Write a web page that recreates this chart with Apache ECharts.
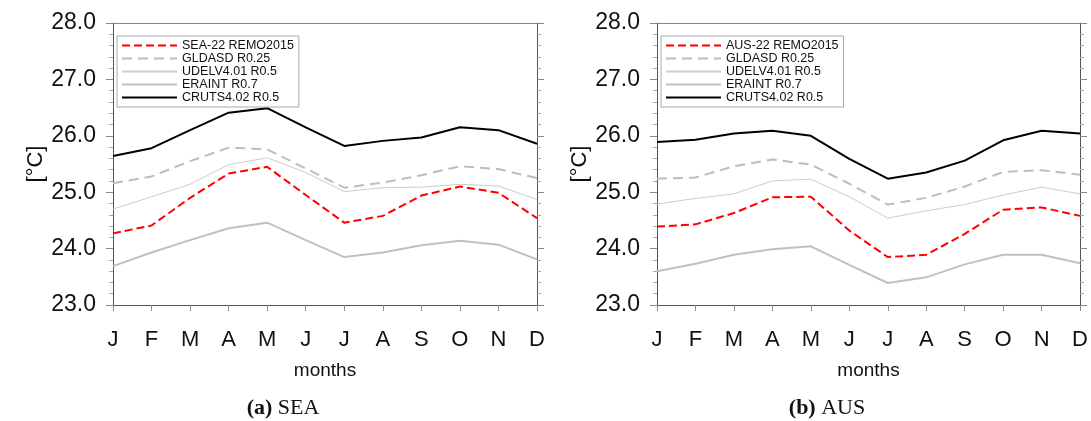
<!DOCTYPE html>
<html>
<head>
<meta charset="utf-8">
<script src="https://cdn.jsdelivr.net/npm/echarts@6/dist/echarts.min.js"></script>
<style>
html,body{margin:0;padding:0;background:#fff;}
#c{width:1091px;height:421px;}
</style>
</head>
<body>
<div id="c"></div>
<script>
const months = ['J','F','M','A','M','J','J','A','S','O','N','D'];
const yTicks = [23, 24, 25, 26, 27, 28];
const seriesNamesSEA = ['SEA-22 REMO2015','GLDASD R0.25','UDELV4.01 R0.5','ERAINT R0.7','CRUTS4.02 R0.5'];
const seriesNamesAUS = ['AUS-22 REMO2015','GLDASD R0.25','UDELV4.01 R0.5','ERAINT R0.7','CRUTS4.02 R0.5'];

// (a) SEA
const seaRemo   = [24.27, 24.41, 24.90, 25.33, 25.45, 24.95, 24.46, 24.58, 24.94, 25.10, 24.99, 24.54];
const seaGldasd = [25.16, 25.28, 25.55, 25.79, 25.76, 25.42, 25.08, 25.17, 25.30, 25.46, 25.41, 25.25];
const seaUdel   = [24.70, 24.92, 25.14, 25.49, 25.61, 25.35, 25.01, 25.08, 25.09, 25.14, 25.11, 24.87];
const seaEraint = [23.69, 23.93, 24.15, 24.36, 24.46, 24.15, 23.85, 23.93, 24.06, 24.14, 24.07, 23.81];
const seaCruts  = [25.64, 25.78, 26.10, 26.41, 26.49, 26.15, 25.82, 25.91, 25.97, 26.15, 26.10, 25.86];

// (b) AUS
const ausRemo   = [24.39, 24.43, 24.63, 24.91, 24.92, 24.32, 23.85, 23.89, 24.26, 24.69, 24.73, 24.58];
const ausGldasd = [25.24, 25.26, 25.46, 25.58, 25.49, 25.15, 24.78, 24.90, 25.10, 25.36, 25.39, 25.31];
const ausUdel   = [24.79, 24.89, 24.97, 25.20, 25.23, 24.92, 24.54, 24.67, 24.78, 24.95, 25.09, 24.97];
const ausEraint = [23.60, 23.73, 23.89, 23.99, 24.04, 23.71, 23.39, 23.49, 23.72, 23.89, 23.89, 23.74];
const ausCruts  = [25.89, 25.93, 26.04, 26.09, 26.00, 25.59, 25.24, 25.35, 25.56, 25.92, 26.09, 26.04];

const styles = [
  {color:'#ff0000', width:2, type:[8,4]},
  {color:'#bdbdbd', width:2, type:[10,6]},
  {color:'#cccccc', width:1, type:'solid'},
  {color:'#c0c0c0', width:2, type:'solid'},
  {color:'#000000', width:2, type:'solid'}
];

const axisColor = '#555';
const font = 'Liberation Sans, Arial, Helvetica, sans-serif';
const serif = 'Liberation Serif, DejaVu Serif, serif';

function mkSeries(names, arrays, gi){
  return arrays.map((d,i)=>({
    name: names[i], type:'line', xAxisIndex: gi*2, yAxisIndex: gi*2,
    data: d, symbol:'none', showSymbol:false, silent:true, animation:false,
    lineStyle:{color:styles[i].color, width:styles[i].width, type:styles[i].type},
    itemStyle:{color:styles[i].color},
    z: 5 - i
  }));
}

const grids = [
  {left:113, top:23, width:424, height:282},
  {left:657, top:23, width:425, height:282}
];

const xAxes = [], yAxes = [];
[0,1].forEach(g=>{
  xAxes.push({
    type:'category', gridIndex:g, data:months, boundaryGap:false,
    axisLine:{show:true, lineStyle:{color:axisColor, width:1}},
    axisTick:{show:true, alignWithLabel:true, length:6, lineStyle:{color:'#888'}},
    axisLabel:{fontSize:22, color:'#111', fontFamily:font, margin:24},
    name:'months', nameLocation:'middle', nameGap:56,
    nameTextStyle:{fontSize:19, color:'#111', fontFamily:font},
    splitLine:{show:false}
  });
  xAxes.push({
    type:'category', gridIndex:g, data:months, boundaryGap:false, position:'top',
    axisLine:{show:true, lineStyle:{color:'#888', width:1}},
    axisTick:{show:false}, axisLabel:{show:false}, splitLine:{show:false}
  });
  yAxes.push({
    type:'value', gridIndex:g, min:yTicks[0], max:yTicks[yTicks.length-1], interval:1,
    axisLine:{show:true, lineStyle:{color:axisColor, width:1}},
    axisTick:{show:true, length:7, lineStyle:{color:'#888'}},
    minorTick:{show:true, splitNumber:5, length:4, lineStyle:{color:'#aaa'}},
    axisLabel:{fontSize:23, color:'#111', fontFamily:font, margin:17, formatter:v=>v.toFixed(1)},
    splitLine:{show:false},
    name:'[°C]', nameLocation:'middle', nameGap:60,
    nameTextStyle:{fontSize:22, color:'#111', fontFamily:font}
  });
  yAxes.push({
    type:'value', gridIndex:g, min:yTicks[0], max:yTicks[yTicks.length-1], interval:1, position:'right',
    axisLine:{show:true, lineStyle:{color:axisColor, width:1}},
    axisTick:{show:true, length:7, lineStyle:{color:'#888'}},
    minorTick:{show:true, splitNumber:5, length:4, lineStyle:{color:'#aaa'}},
    axisLabel:{show:false}, splitLine:{show:false}
  });
});

function mkLegend(names, left){
  return {
    orient:'vertical', left:left, top:36, data:names,
    itemWidth:55, itemHeight:12, itemGap:0,
    padding:[3,5,3,4],
    borderColor:'#aaa', borderWidth:1, backgroundColor:'#fff',
    itemStyle:{opacity:0},
    textStyle:{fontSize:12.5, lineHeight:12, color:'#111', fontFamily:font},
    selectedMode:false, z:10
  };
}

const chart = echarts.init(document.getElementById('c'), null, {renderer:'canvas'});
chart.setOption({
  animation:false,
  backgroundColor:'#fff',
  grid:grids,
  xAxis:xAxes,
  yAxis:yAxes,
  legend:[mkLegend(seriesNamesSEA,117), mkLegend(seriesNamesAUS,661)],
  title:[
    {text:'{b|(a)} SEA', left:278, top:392, textAlign:'center',
     textStyle:{fontSize:22, fontWeight:'normal', color:'#111', fontFamily:serif,
       rich:{b:{fontSize:22, fontWeight:'bold', color:'#111', fontFamily:serif}}}},
    {text:'{b|(b)} AUS', left:822, top:392, textAlign:'center',
     textStyle:{fontSize:22, fontWeight:'normal', color:'#111', fontFamily:serif,
       rich:{b:{fontSize:22, fontWeight:'bold', color:'#111', fontFamily:serif}}}}
  ],
  series:[].concat(
    mkSeries(seriesNamesSEA,[seaRemo,seaGldasd,seaUdel,seaEraint,seaCruts],0),
    mkSeries(seriesNamesAUS,[ausRemo,ausGldasd,ausUdel,ausEraint,ausCruts],1)
  )
});
</script>
</body>
</html>
